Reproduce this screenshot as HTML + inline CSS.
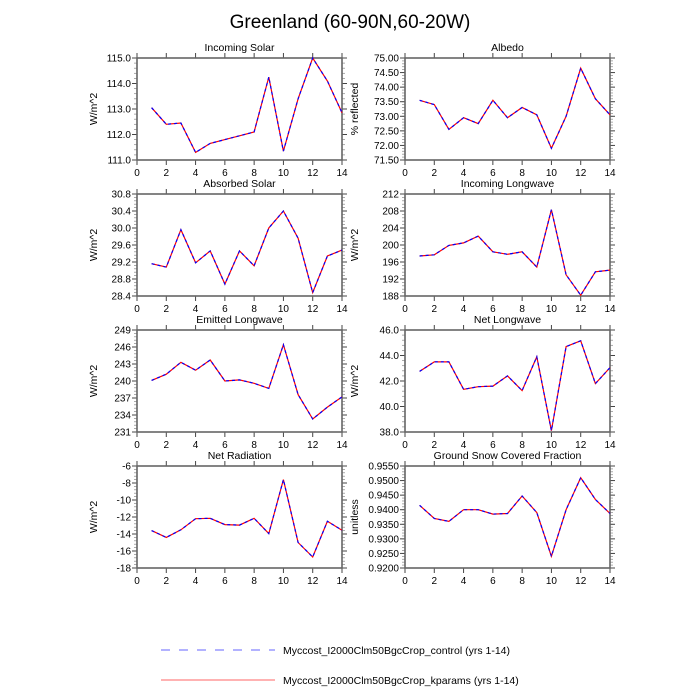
<!DOCTYPE html>
<html><head><meta charset="utf-8"><style>
html,body{margin:0;padding:0;background:#fff;}
svg{display:block;font-family:"Liberation Sans",sans-serif;}
</style></head><body>
<svg id="chart" width="700" height="700" viewBox="0 0 700 700" xmlns="http://www.w3.org/2000/svg">
<text x="350" y="28" font-size="19" text-anchor="middle">Greenland (60-90N,60-20W)</text>
<g id="panels"></g>
<g>
<line x1="161" y1="650" x2="275" y2="650" stroke="#6666ff" stroke-width="1" stroke-dasharray="9,9"/>
<text x="283" y="654" font-size="10.5">Myccost_I2000Clm50BgcCrop_control (yrs 1-14)</text>
<line x1="161" y1="680" x2="275" y2="680" stroke="#ff6666" stroke-width="1"/>
<text x="283" y="684" font-size="10.5">Myccost_I2000Clm50BgcCrop_kparams (yrs 1-14)</text>
</g>
</svg>
<script>
const years=[1,2,3,4,5,6,7,8,9,10,11,12,13,14];
const xTicks=[0,2,4,6,8,10,12,14];
const titles=["Incoming Solar","Albedo","Absorbed Solar","Incoming Longwave","Emitted Longwave","Net Longwave","Net Radiation","Ground Snow Covered Fraction"];
const yTitles=["W/m^2","% reflected","W/m^2","W/m^2","W/m^2","W/m^2","W/m^2","unitless"];
const yMin=[111,71.5,28.4,188,231,38,-18,0.92];
const yMax=[115,75,30.8,212,249,46,-6,0.955];
const yStep=[1,0.5,0.4,4,3,2,2,0.005];
const yDec=[1,2,1,0,0,1,0,4];
const sIncSolar=[113.05,112.4,112.45,111.3,111.65,111.8,111.95,112.1,114.25,111.35,113.4,115.0,114.1,112.85];
const sAlbedo=[73.55,73.4,72.55,72.95,72.75,73.55,72.95,73.3,73.05,71.9,73.0,74.65,73.6,73.05];
const sAbsSolar=[29.16,29.08,29.96,29.18,29.46,28.68,29.46,29.11,30.0,30.4,29.76,28.48,29.34,29.48];
const sIncLW=[197.4,197.7,199.9,200.5,202.1,198.4,197.8,198.4,194.8,208.3,193.0,188.2,193.7,194.1];
const sEmitLW=[240.1,241.2,243.3,241.9,243.7,240.0,240.2,239.6,238.7,246.4,237.6,233.3,235.4,237.2];
const sNetLW=[42.75,43.5,43.5,41.35,41.55,41.6,42.4,41.25,43.9,38.1,44.7,45.15,41.8,43.05];
const sNetRad=[-13.6,-14.4,-13.5,-12.2,-12.15,-12.9,-12.95,-12.15,-13.95,-7.6,-15.0,-16.7,-12.5,-13.55];
const sSnow=[0.9415,0.937,0.936,0.940,0.940,0.9385,0.9387,0.9447,0.939,0.924,0.940,0.951,0.9435,0.9387];
const series=[sIncSolar,sAlbedo,sAbsSolar,sIncLW,sEmitLW,sNetLW,sNetRad,sSnow];

const NS="http://www.w3.org/2000/svg";
const root=document.getElementById('panels');
function mk(tag,attrs,parent){const e=document.createElementNS(NS,tag);for(const k in attrs)e.setAttribute(k,attrs[k]);parent.appendChild(e);return e;}
const colX=[137,405], rowY=[58,194,330,466], W=205, H=102;
for(let i=0;i<8;i++){
  const L=colX[i%2], T=rowY[Math.floor(i/2)], R=L+W, B=T+H;
  const g=mk('g',{},root);
  
  
  const xs=v=>L+(v-0)/14*W;
  const ys=v=>B-(v-yMin[i])/(yMax[i]-yMin[i])*H;
  const t=mk('text',{x:L+W/2,y:T-7,'font-size':'10.5','text-anchor':'middle'},g);t.textContent=titles[i];
  
  
  // minor y ticks
  const nMaj=Math.round((yMax[i]-yMin[i])/yStep[i]);
  for(let k=0;k<=nMaj*5;k++){
    const y=B-k/(nMaj*5)*H;
    mk('line',{x1:L-3,y1:y,x2:L,y2:y,stroke:'#888','stroke-width':0.7},g);
    mk('line',{x1:R,y1:y,x2:R+3,y2:y,stroke:'#888','stroke-width':0.7},g);
  }
  for(let k=0;k<=nMaj;k++){
    const v=yMin[i]+k*yStep[i], y=ys(v);
    mk('line',{x1:L-5,y1:y,x2:L,y2:y,stroke:'#444','stroke-width':1},g);
    mk('line',{x1:R,y1:y,x2:R+5,y2:y,stroke:'#444','stroke-width':1},g);
    const tl=mk('text',{x:L-6,y:y+3.5,'font-size':'10','text-anchor':'end'},g);tl.textContent=v.toFixed(yDec[i]);
    
    
  }
  xTicks.forEach(v=>{
    const x=xs(v);
    mk('line',{x1:x,y1:B,x2:x,y2:B+5,stroke:'#444','stroke-width':1},g);
    mk('line',{x1:x,y1:T-5,x2:x,y2:T,stroke:'#444','stroke-width':1},g);
    const tl=mk('text',{x:x,y:B+16,'font-size':'10','text-anchor':'middle'},g);tl.textContent=v;
    
    
  });
  mk('rect',{x:L,y:T,width:W,height:H,fill:'none',stroke:'#666','stroke-width':1.6},g);
  const yt=mk('text',{x:0,y:0,'font-size':'10.5','text-anchor':'middle',transform:`translate(${L-(i%2?47:40)},${T+H/2}) rotate(-90)`},g);yt.textContent=yTitles[i];
  
  
  const pts=years.map((y,j)=>xs(y).toFixed(1)+','+ys(series[i][j]).toFixed(1)).join(' ');
  const r=mk('polyline',{points:pts,fill:'none',stroke:'#ff0000','stroke-width':1.2},g);
  
  
  const b=mk('polyline',{points:pts,fill:'none',stroke:'#0000ff','stroke-width':1.2,'stroke-dasharray':'3,3'},g);
  
  
}
</script>
</body></html>
